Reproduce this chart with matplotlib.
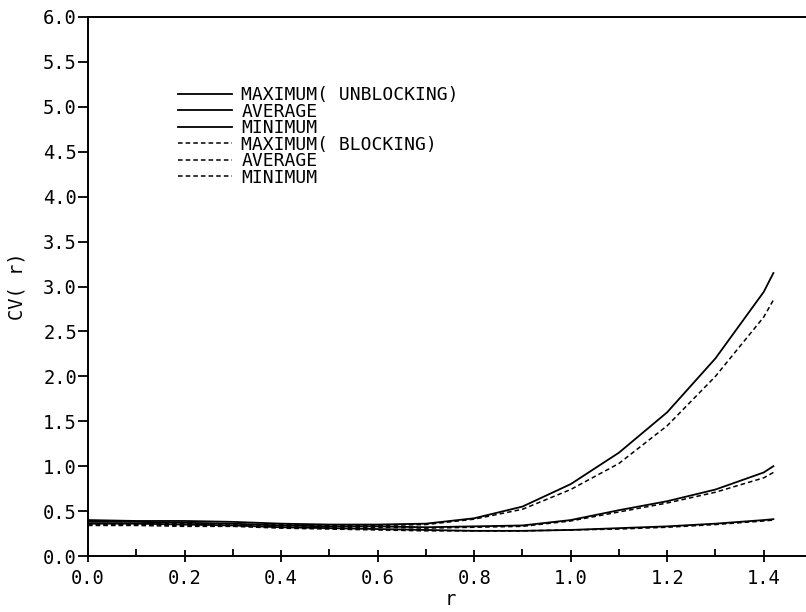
import matplotlib
matplotlib.use("Agg")
import matplotlib.pyplot as plt
from matplotlib.ticker import MultipleLocator, FormatStrFormatter

# values
r = [0.0, 0.1, 0.2, 0.3, 0.4, 0.5, 0.6, 0.7, 0.8, 0.9, 1.0, 1.1, 1.2, 1.3, 1.4, 1.42]

max_unblock = [0.40, 0.39, 0.39, 0.38, 0.36, 0.35, 0.35, 0.36, 0.42, 0.55, 0.80, 1.15, 1.60, 2.20, 2.94, 3.15]
avg_unblock = [0.38, 0.38, 0.37, 0.36, 0.34, 0.33, 0.33, 0.32, 0.33, 0.34, 0.40, 0.51, 0.61, 0.74, 0.93, 1.00]
min_unblock = [0.36, 0.36, 0.35, 0.34, 0.32, 0.31, 0.30, 0.29, 0.28, 0.28, 0.29, 0.31, 0.33, 0.36, 0.40, 0.41]

max_block = [0.36, 0.36, 0.36, 0.35, 0.35, 0.34, 0.34, 0.35, 0.41, 0.52, 0.74, 1.03, 1.45, 2.00, 2.66, 2.85]
avg_block = [0.35, 0.35, 0.34, 0.34, 0.33, 0.32, 0.32, 0.31, 0.32, 0.33, 0.39, 0.49, 0.59, 0.71, 0.87, 0.93]
min_block = [0.34, 0.34, 0.33, 0.33, 0.31, 0.30, 0.29, 0.28, 0.28, 0.28, 0.29, 0.30, 0.32, 0.35, 0.39, 0.40]

labels = ["MAXIMUM( UNBLOCKING)", "AVERAGE", "MINIMUM",
          "MAXIMUM( BLOCKING)", "AVERAGE", "MINIMUM"]

plt.rcParams['font.family'] = ['DejaVu Sans Mono']

fig = plt.figure(figsize=(8.06, 6.12), dpi=100)
ax = fig.add_axes([88 / 806, 56 / 612, 724 / 806, 539 / 612])

# solid = unblocking, dashed = blocking
for y, lab in zip([max_unblock, avg_unblock, min_unblock], labels[:3]):
    ax.plot(r, y, color='black', lw=1.3, label=lab)
for y, lab in zip([max_block, avg_block, min_block], labels[3:]):
    ax.plot(r, y, color='black', lw=1.1, ls=(0, (3, 2)), label=lab)

ax.set_xlim(0, 1.5)
ax.set_ylim(0, 6)
ax.xaxis.set_major_locator(MultipleLocator(0.2))
ax.xaxis.set_minor_locator(MultipleLocator(0.1))
ax.yaxis.set_major_locator(MultipleLocator(0.5))
ax.xaxis.set_major_formatter(FormatStrFormatter('%.1f'))
ax.yaxis.set_major_formatter(FormatStrFormatter('%.1f'))
ax.tick_params(axis='x', which='major', direction='inout', length=9, width=1.3,
               labelsize=13.5, pad=5)
ax.tick_params(axis='x', which='minor', direction='in', length=5, width=1.3)
ax.tick_params(axis='y', which='major', direction='out', length=7, width=1.3,
               labelsize=13.5, pad=1)
ax.spines['right'].set_visible(False)
for s in ['left', 'bottom', 'top']:
    ax.spines[s].set_linewidth(1.4)

ax.set_xlabel('r', fontsize=13.5, labelpad=1)
ax.set_ylabel('CV( r)', fontsize=13.5, labelpad=12)

ax.legend(loc='upper left', bbox_to_anchor=(178 / 806, 1 - 86 / 612),
          bbox_transform=fig.transFigure, frameon=False, fontsize=13,
          handlelength=3.0, handletextpad=0.5, labelspacing=-0.08,
          borderpad=0, borderaxespad=0)

fig.savefig('out.png', dpi=100)
